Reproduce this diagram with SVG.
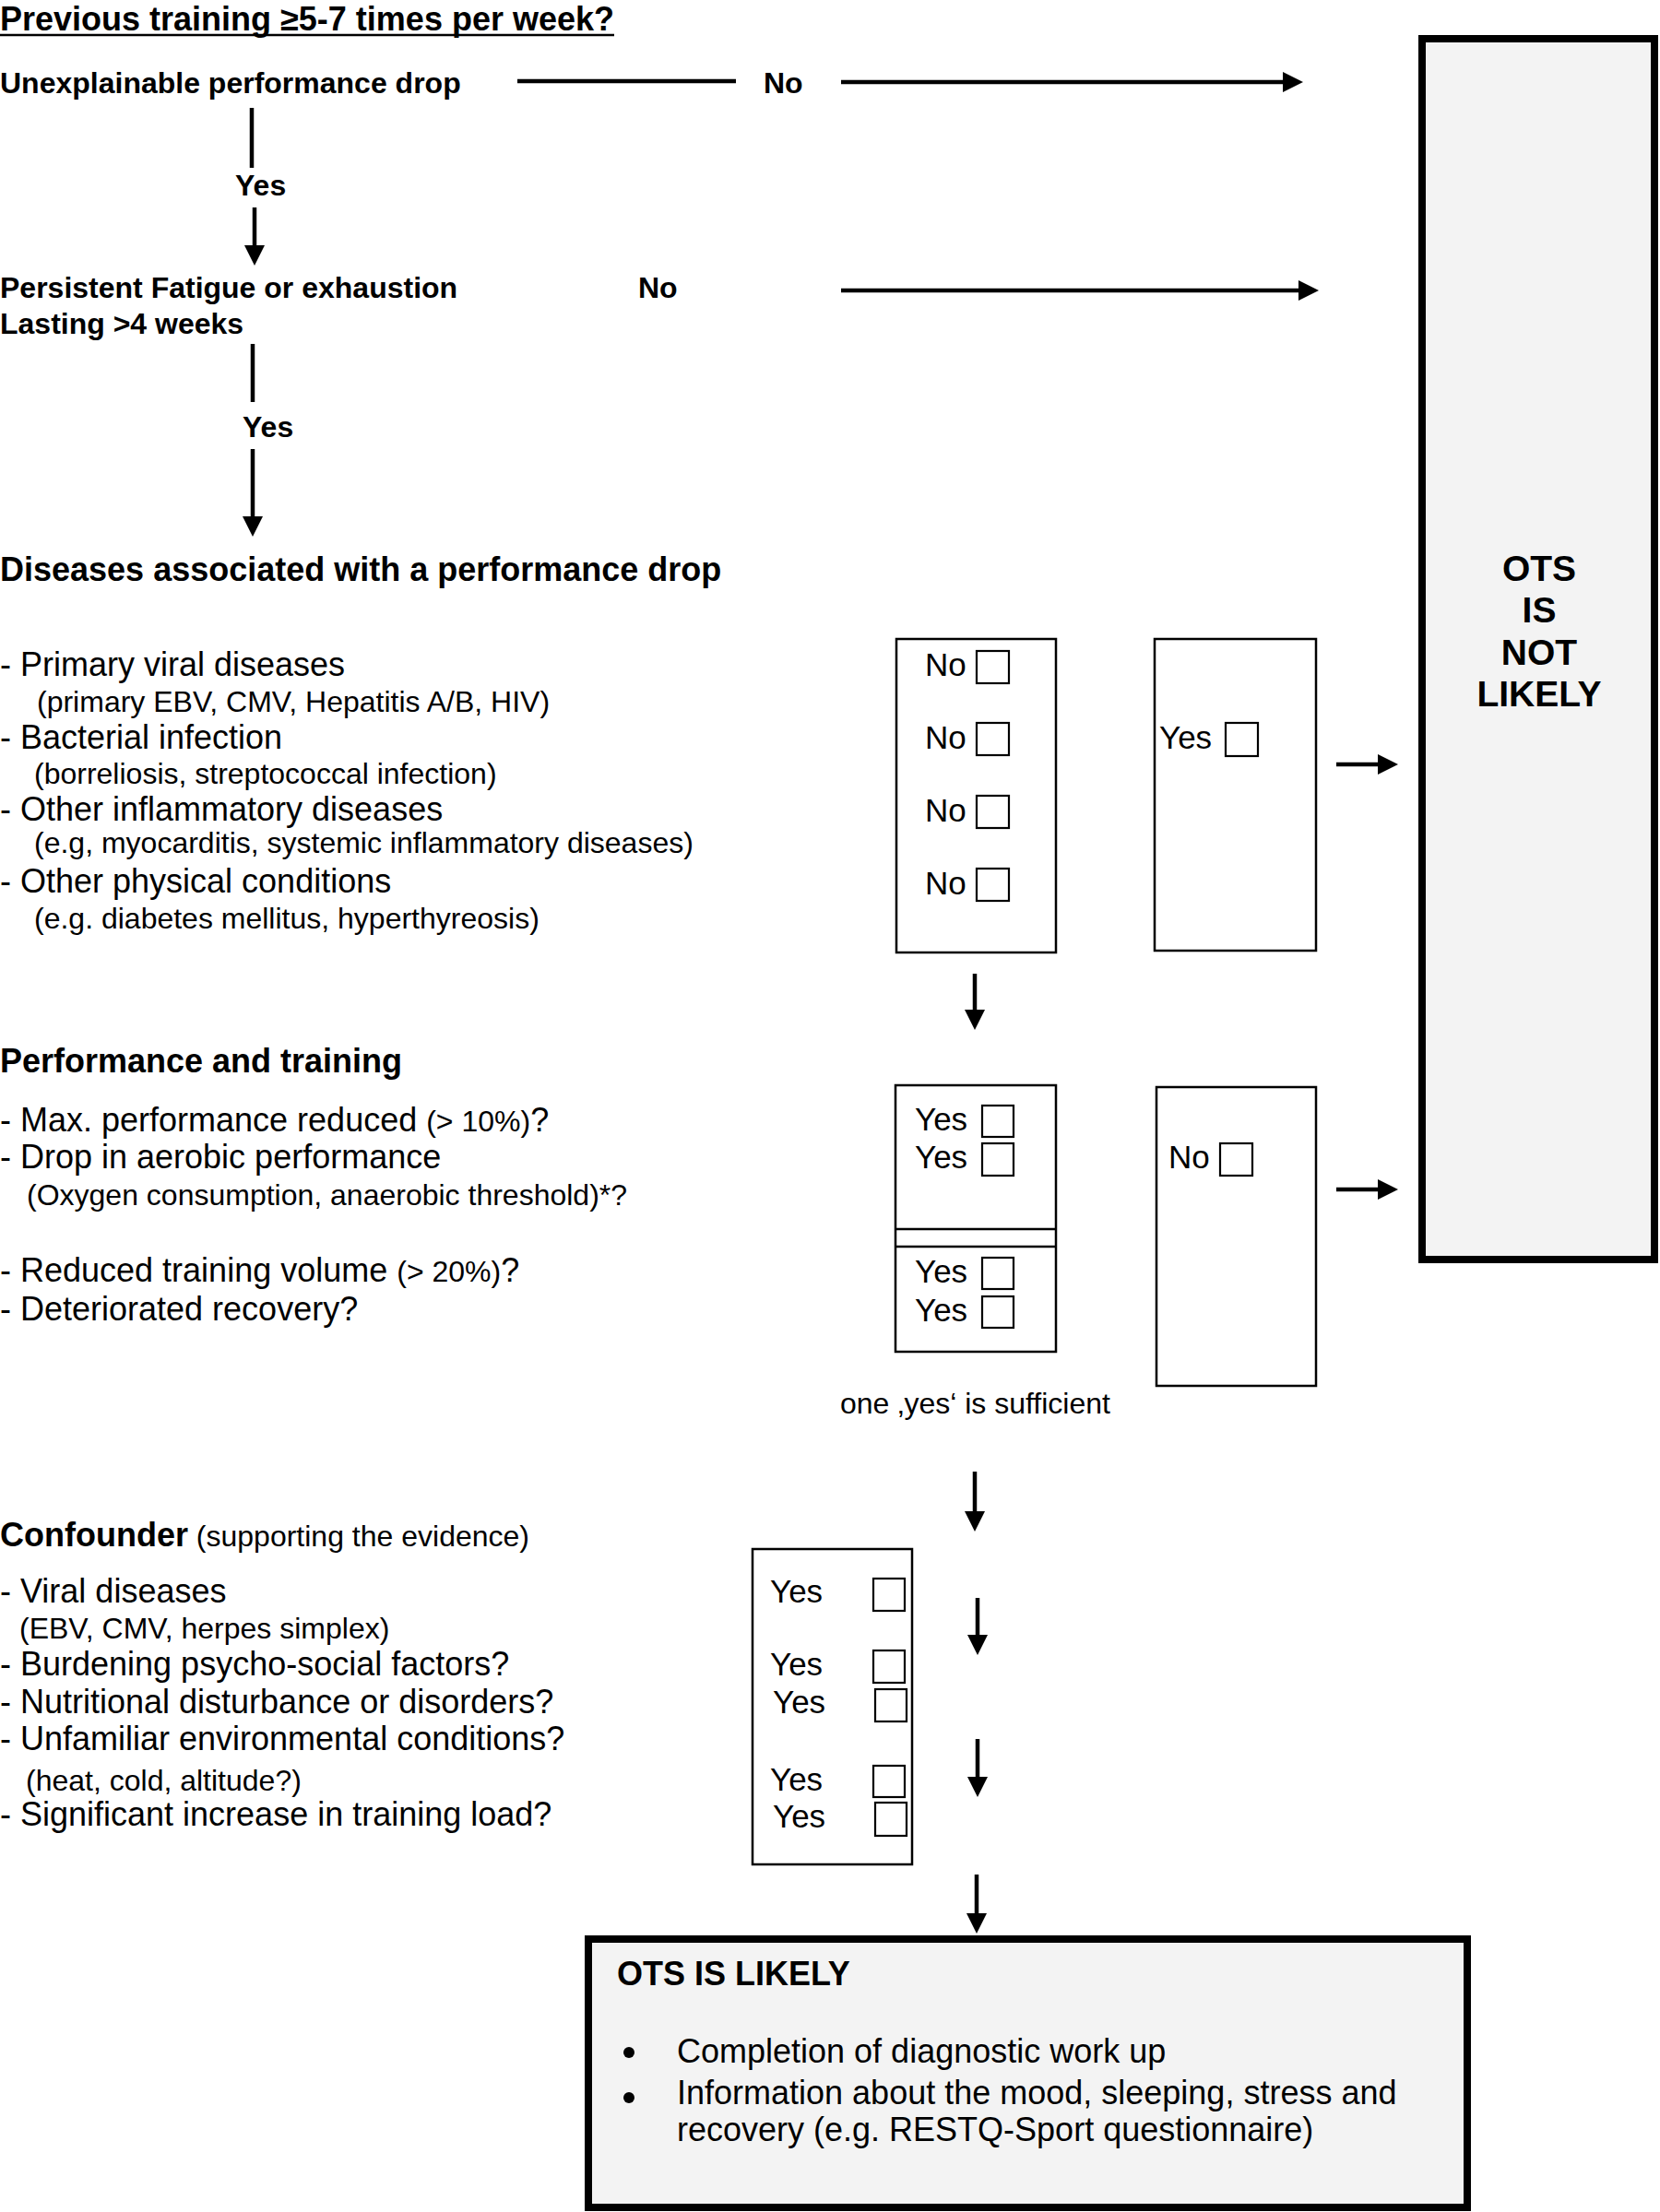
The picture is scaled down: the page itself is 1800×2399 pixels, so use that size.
<svg xmlns="http://www.w3.org/2000/svg" width="1800" height="2399" viewBox="0 0 1800 2399">
<style>
text{font-family:"Liberation Sans",Arial,Helvetica,sans-serif;fill:#000}
.b32{font-size:32px;font-weight:bold}
.b36{font-size:36px;font-weight:bold}
.b39{font-size:39px;font-weight:bold;text-anchor:middle}
.r36{font-size:36px}
.r32{font-size:32px}
.r35{font-size:35px}
.box{fill:#fff;stroke:#000;stroke-width:2.5}
.chk{fill:#fff;stroke:#000;stroke-width:2.2}
.big{fill:#f3f3f3;stroke:#000;stroke-width:8}
.ln{stroke:#000;stroke-width:4.5;fill:none}
.arr{stroke:#000;stroke-width:4.5;fill:none;marker-end:url(#ah)}
</style>
<defs>
<marker id="ah" markerUnits="userSpaceOnUse" markerWidth="22" markerHeight="22" viewBox="0 0 22 22" refX="10" refY="11" orient="auto">
<path d="M0,0 L22,11 L0,22 z" fill="#000"/>
</marker>
</defs>
<rect width="1800" height="2399" fill="#fff"/>

<g id="title">
<text class="b36" x="0" y="33">Previous training ≥5-7 times per week?</text>
<line x1="0" y1="38" x2="666" y2="38" stroke="#000" stroke-width="2.5"/>
</g>

<g id="q1">
<text class="b32" x="0" y="101">Unexplainable performance drop</text>
</g>
<g id="q2">
<text class="b32" x="0" y="323">Persistent Fatigue or exhaustion</text>
<text class="b32" x="0" y="362">Lasting &gt;4 weeks</text>
</g>

<g id="diseases">
<text class="b36" x="0" y="630">Diseases associated with a performance drop</text>
<text class="r36" x="0" y="733">- Primary viral diseases</text>
<text class="r32" x="40" y="772">(primary EBV, CMV, Hepatitis A/B, HIV)</text>
<text class="r36" x="0" y="812">- Bacterial infection</text>
<text class="r32" x="37" y="850">(borreliosis, streptococcal infection)</text>
<text class="r36" x="0" y="890">- Other inflammatory diseases</text>
<text class="r32" x="37" y="925">(e.g, myocarditis, systemic inflammatory diseases)</text>
<text class="r36" x="0" y="968">- Other physical conditions</text>
<text class="r32" x="37" y="1007">(e.g. diabetes mellitus, hyperthyreosis)</text>
</g>

<g id="diseases-no">
<rect class="box" x="972" y="693" width="173" height="340"/>
<text class="r35" x="1003" y="733">No</text>
<rect class="chk" x="1059" y="706" width="35" height="35"/>
<text class="r35" x="1003" y="812">No</text>
<rect class="chk" x="1059" y="784" width="35" height="35"/>
<text class="r35" x="1003" y="891">No</text>
<rect class="chk" x="1059" y="863" width="35" height="35"/>
<text class="r35" x="1003" y="970">No</text>
<rect class="chk" x="1059" y="942" width="35" height="35"/>
</g>

<g id="diseases-yes">
<rect class="box" x="1252" y="693" width="175" height="338"/>
<text class="r35" x="1257" y="812">Yes</text>
<rect class="chk" x="1329" y="784" width="35" height="36"/>
</g>

<g id="performance">
<text class="b36" x="0" y="1163">Performance and training</text>
<text class="r36" x="0" y="1227">- Max. performance reduced <tspan class="r32">(&gt; 10%)</tspan>?</text>
<text class="r36" x="0" y="1267">- Drop in aerobic performance</text>
<text class="r32" x="29" y="1307">(Oxygen consumption, anaerobic threshold)*?</text>
<text class="r36" x="0" y="1390">- Reduced training volume <tspan class="r32">(&gt; 20%)</tspan>?</text>
<text class="r36" x="0" y="1432">- Deteriorated recovery?</text>
</g>

<g id="performance-yes">
<rect class="box" x="971" y="1177" width="174" height="289"/>
<line x1="971" y1="1333" x2="1145" y2="1333" stroke="#000" stroke-width="2.5"/>
<line x1="971" y1="1352" x2="1145" y2="1352" stroke="#000" stroke-width="2.5"/>
<text class="r35" x="992" y="1226">Yes</text>
<rect class="chk" x="1065" y="1199" width="34" height="34"/>
<text class="r35" x="992" y="1267">Yes</text>
<rect class="chk" x="1065" y="1240" width="34" height="35"/>
<text class="r35" x="992" y="1391">Yes</text>
<rect class="chk" x="1065" y="1364" width="34" height="34"/>
<text class="r35" x="992" y="1433">Yes</text>
<rect class="chk" x="1065" y="1406" width="34" height="34"/>
</g>

<g id="performance-no">
<rect class="box" x="1254" y="1179" width="173" height="324"/>
<text class="r35" x="1267" y="1267">No</text>
<rect class="chk" x="1323" y="1240" width="35" height="35"/>
</g>

<g id="note">
<text class="r32" x="911" y="1533">one ‚yes‘ is sufficient</text>
</g>

<g id="confounder">
<text x="0" y="1677"><tspan class="b36">Confounder</tspan><tspan class="r32"> (supporting the evidence)</tspan></text>
<text class="r36" x="0" y="1738">- Viral diseases</text>
<text class="r32" x="21" y="1777">(EBV, CMV, herpes simplex)</text>
<text class="r36" x="0" y="1817">- Burdening psycho-social factors?</text>
<text class="r36" x="0" y="1858">- Nutritional disturbance or disorders?</text>
<text class="r36" x="0" y="1898">- Unfamiliar environmental conditions?</text>
<text class="r32" x="28" y="1942">(heat, cold, altitude?)</text>
<text class="r36" x="0" y="1980">- Significant increase in training load?</text>
</g>

<g id="confounder-yes">
<rect class="box" x="816" y="1680" width="173" height="342"/>
<text class="r35" x="835" y="1738">Yes</text>
<rect class="chk" x="947" y="1712" width="34" height="35"/>
<text class="r35" x="835" y="1817">Yes</text>
<rect class="chk" x="947" y="1790" width="34" height="35"/>
<text class="r35" x="838" y="1858">Yes</text>
<rect class="chk" x="949" y="1832" width="34" height="35"/>
<text class="r35" x="835" y="1942">Yes</text>
<rect class="chk" x="947" y="1915" width="34" height="34"/>
<text class="r35" x="838" y="1982">Yes</text>
<rect class="chk" x="949" y="1955" width="34" height="36"/>
</g>

<g id="ots-not-likely">
<rect class="big" x="1542" y="42" width="252" height="1324"/>
<text class="b39" x="1669" y="630">OTS</text>
<text class="b39" x="1669" y="675">IS</text>
<text class="b39" x="1669" y="721">NOT</text>
<text class="b39" x="1669" y="766">LIKELY</text>
</g>

<g id="ots-likely">
<rect class="big" x="638" y="2103" width="953" height="291"/>
<text class="b36" x="669" y="2153">OTS IS LIKELY</text>
<circle cx="682" cy="2226" r="6" fill="#000"/>
<text class="r36" x="734" y="2237">Completion of diagnostic work up</text>
<circle cx="682" cy="2275" r="6" fill="#000"/>
<text class="r36" x="734" y="2282">Information about the mood, sleeping, stress and</text>
<text class="r36" x="734" y="2322">recovery (e.g. RESTQ-Sport questionnaire)</text>
</g>

<g id="connectors">
<line class="ln" x1="561" y1="88" x2="798" y2="88"/>
<text class="b32" x="828" y="101">No</text>
<line class="arr" x1="912" y1="89" x2="1401" y2="89"/>
<line class="ln" x1="273" y1="117" x2="273" y2="182"/>
<text class="b32" x="255" y="212">Yes</text>
<line class="arr" x1="276" y1="225" x2="276" y2="276"/>
<text class="b32" x="692" y="323">No</text>
<line class="arr" x1="912" y1="315" x2="1418" y2="315"/>
<line class="ln" x1="274" y1="373" x2="274" y2="436"/>
<text class="b32" x="263" y="474">Yes</text>
<line class="arr" x1="274" y1="487" x2="274" y2="570"/>
<line class="arr" x1="1449" y1="829" x2="1504" y2="829"/>
<line class="arr" x1="1057" y1="1056" x2="1057" y2="1105"/>
<line class="arr" x1="1449" y1="1290" x2="1504" y2="1290"/>
<line class="arr" x1="1057" y1="1596" x2="1057" y2="1649"/>
<line class="arr" x1="1060" y1="1733" x2="1060" y2="1783"/>
<line class="arr" x1="1060" y1="1886" x2="1060" y2="1937"/>
<line class="arr" x1="1059" y1="2033" x2="1059" y2="2085"/>
</g>
</svg>
